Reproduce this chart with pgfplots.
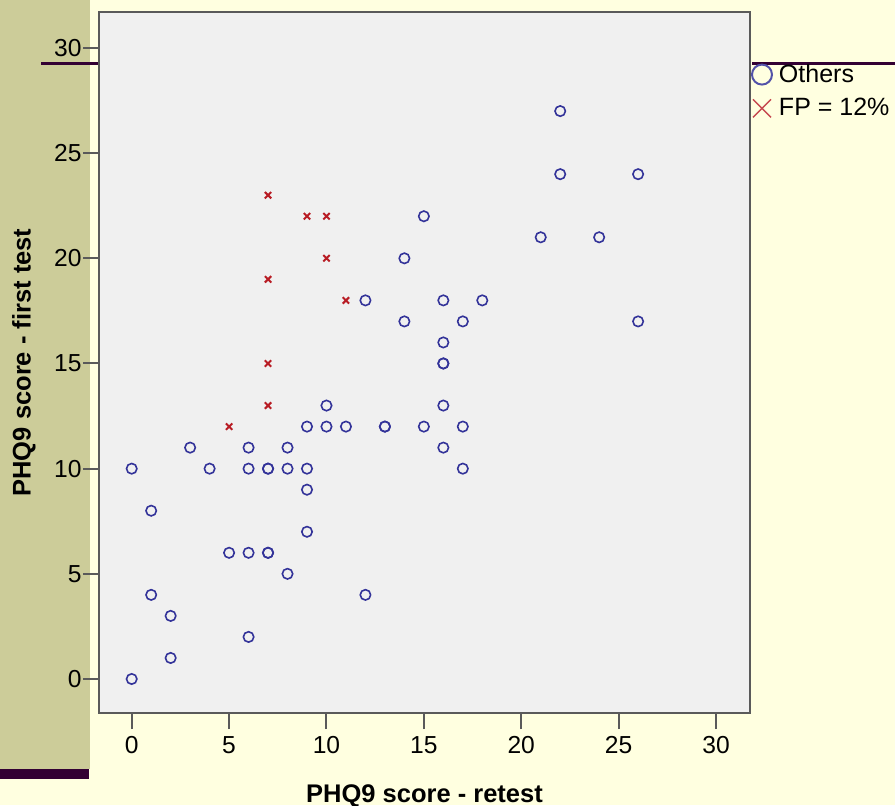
\documentclass[border=0pt]{standalone}
\usepackage{pgfplots}
\pgfplotsset{compat=1.18}
\usepackage{fontspec}
\setmainfont{Liberation Sans}
\definecolor{bgyellow}{HTML}{FFFFE0}
\definecolor{strip}{HTML}{CCCC99}
\definecolor{purp}{HTML}{330033}
\definecolor{plotbg}{HTML}{F0F0F0}
\definecolor{frame}{HTML}{5A5A5A}
\definecolor{circblue}{HTML}{333399}
\definecolor{crossred}{HTML}{B81C24}
\begin{document}
\begin{tikzpicture}
\begin{scope}[yshift=402.5pt,x=0.5pt,y=-0.5pt]
\fill[bgyellow] (0,0) rectangle (895,805);
\fill[strip] (0,0) rectangle (90,769);
\fill[purp] (0,769) rectangle (89,779);
\fill[purp] (41,62) rectangle (99,65);
\fill[purp] (752,62) rectangle (895,65);
\end{scope}
\begin{axis}[
  at={(49.5pt,46pt)}, anchor=south west,
  scale only axis, width=325.5pt, height=350.5pt,
  xmin=-1.679, xmax=31.745, ymin=-1.617, ymax=31.71,
  xtick={0,5,...,30}, ytick={0,5,...,30},
  xtick pos=left, ytick pos=left,
  tick align=outside,
  major tick length=8pt,
  every tick/.style={frame, line width=1pt},
  axis line style={frame, line width=1pt},
  axis background/.style={fill=plotbg},
  /pgf/number format/assume math mode=true,
  tick label style={font=\fontsize{12.3}{14}\selectfont},
  yticklabel style={inner xsep=0.5pt},
  xlabel={PHQ9 score - retest},
  ylabel={PHQ9 score - first test},
  every axis x label/.style={at={(axis description cs:0.5,-0.127)},anchor=base,
    font=\fontsize{12.75}{15}\selectfont\bfseries},
  every axis y label/.style={at={(axis description cs:-0.1152,0.5)},rotate=90,anchor=center,
    font=\fontsize{12.75}{15}\selectfont\bfseries},
  legend style={at={(axis description cs:1.0015,0.9315)}, anchor=north west,
    draw=none, fill=none, inner sep=0pt, outer sep=0pt,
    font=\fontsize{12.5}{15}\selectfont, row sep=2.5pt, column sep=1pt,
    cells={anchor=west}},
]
\addplot[only marks, mark=o, mark size=2.6pt, color=circblue, line width=0.8pt,
  legend image code/.code={\path[draw=none,fill=none] (-5.5pt,-6pt) rectangle (5.5pt,6pt);
    \draw[circblue!85!white, line width=1pt, fill=none] (0pt,0pt) circle (5pt);}]
  coordinates {
  (0,10) (0,0) (1,8) (1,4) (2,3) (2,1) (3,11) (4,10) (5,6) (6,11) (6,10) (6,6) (6,2)
  (7,10) (7,10) (7,6) (7,6) (8,11) (8,10) (8,5) (9,12) (9,10) (9,9) (9,7)
  (10,13) (10,12) (11,12) (12,18) (12,4) (13,12) (13,12) (14,20) (14,17) (15,22) (15,12)
  (16,18) (16,16) (16,15) (16,15) (16,13) (16,11) (17,17) (17,12) (17,10) (18,18)
  (21,21) (22,27) (22,24) (24,21) (26,24) (26,17)
  };
\addlegendentry{Others}
\addplot[only marks, mark=x, mark size=2.25pt, color=crossred, line width=1pt,
  legend image code/.code={\path[draw=none,fill=none] (-5.5pt,-6pt) rectangle (5.5pt,6pt);
    \draw[crossred!80!white, line width=0.75pt] (-4.5pt,-4.5pt) -- (4.5pt,4.5pt) (-4.5pt,4.5pt) -- (4.5pt,-4.5pt);}]
  coordinates {
  (5,12) (7,23) (7,19) (7,15) (7,13) (9,22) (10,22) (10,20) (11,18)
  };
\addlegendentry{FP = 12\%}
\end{axis}
\pgfresetboundingbox
\path (0,0) rectangle (447.5pt,402.5pt);
\end{tikzpicture}
\end{document}
